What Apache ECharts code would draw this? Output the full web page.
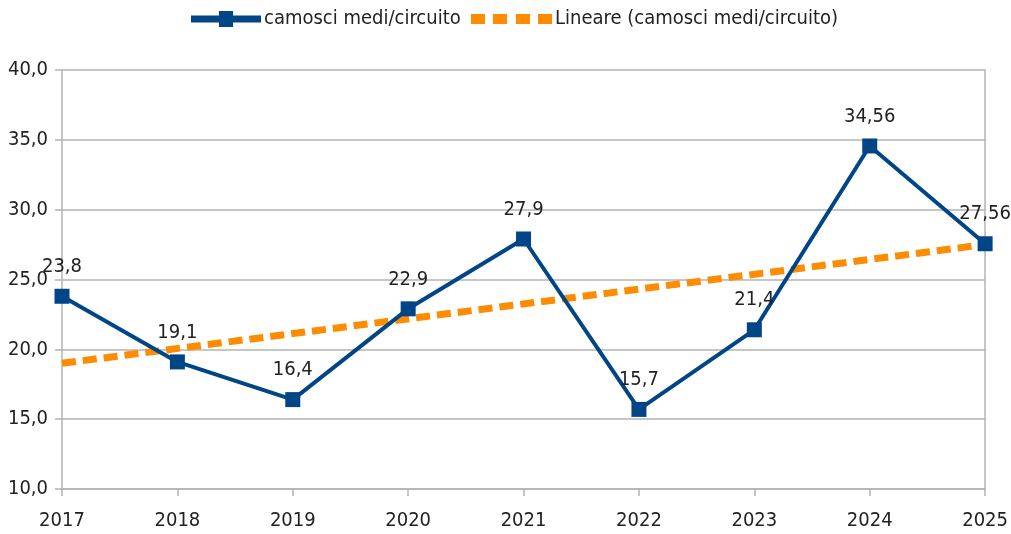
<!DOCTYPE html>
<html><head><meta charset="utf-8">
<script src="https://cdn.jsdelivr.net/npm/echarts@6/dist/echarts.min.js"></script>
<style>html,body{margin:0;padding:0;background:#fff}#c{width:1011px;height:534px}</style>
</head><body><div id="c"></div>
<script>
const years = ['2017','2018','2019','2020','2021','2022','2023','2024','2025'];
const camosci = [23.8, 19.1, 16.4, 22.9, 27.9, 15.7, 21.4, 34.56, 27.56];
const trend = [19.0, null, null, null, null, null, null, null, 27.5];
const seriesNames = ['camosci medi/circuito', 'Lineare (camosci medi/circuito)'];
const FONT = '"DejaVu Sans Condensed", "Liberation Sans Narrow", sans-serif';
const chart = echarts.init(document.getElementById('c'));
const fmt = v => String(v).replace('.', ',');
const legendText = {fontFamily: FONT, fontSize: 20, color: '#222', padding: [0,0,0,-2]};
chart.setOption({
  animation: false,
  grid: {left: 62, right: 25, top: 70, bottom: 45, containLabel: false},
  legend: [{
    top: 4, left: 186, itemWidth: 70, itemHeight: 16, textStyle: legendText,
    data: [
      {name: seriesNames[0], icon: 'path://M0,4.5 L28,4.5 L28,0 L42,0 L42,4.5 L70,4.5 L70,11.5 L42,11.5 L42,16 L28,16 L28,11.5 L0,11.5 Z', itemStyle:{color:'#004586'}}
    ]
  }, {
    top: 4, left: 466, itemWidth: 81, itemHeight: 16, textStyle: legendText,
    data: [
      {name: seriesNames[1], icon: 'path://M0,3 L14,3 L14,13 L0,13 Z M22,3 L36,3 L36,13 L22,13 Z M45,3 L59,3 L59,13 L45,13 Z M67,3 L81,3 L81,13 L67,13 Z', itemStyle:{color:'#ff8c00'}}
    ]
  }],
  xAxis: {
    type: 'category', data: years, boundaryGap: false,
    axisLine: {lineStyle: {color: '#b3b3b3', width: 1.5}},
    axisTick: {show: true, length: 7, inside: false, lineStyle: {color: '#b3b3b3', width: 1.5}},
    axisLabel: {fontFamily: FONT, fontSize: 20, color: '#222', margin: 22},
    splitLine: {show: false}
  },
  yAxis: [{
    type: 'value', min: 10, max: 40, interval: 5,
    axisLine: {show: true, lineStyle: {color: '#b3b3b3', width: 1.5}},
    axisTick: {show: true, length: 7, lineStyle: {color: '#b3b3b3', width: 1.5}},
    axisLabel: {fontFamily: FONT, fontSize: 20, color: '#222', margin: 14, formatter: v => v.toFixed(1).replace('.', ',')},
    splitLine: {lineStyle: {color: '#b3b3b3', width: 1.5}}
  }, {
    type: 'value', min: 10, max: 40, interval: 5, position: 'right',
    axisLine: {show: true, lineStyle: {color: '#b3b3b3', width: 1.5}},
    axisTick: {show: false}, axisLabel: {show: false}, splitLine: {show: false}
  }],
  series: [
    {
      name: seriesNames[1], type: 'line', data: trend, connectNulls: true, z: 2,
      symbol: 'none', lineStyle: {color: '#ff8c00', width: 7, type: [14, 7]},
      itemStyle: {color: '#ff8c00'}
    },
    {
      name: seriesNames[0], type: 'line', data: camosci, z: 3,
      symbol: 'rect', symbolSize: 15,
      lineStyle: {color: '#004586', width: 4},
      itemStyle: {color: '#004586'},
      label: {show: true, position: 'top', distance: 12, fontFamily: FONT, fontSize: 20, color: '#222',
        formatter: p => fmt(p.value)}
    }
  ]
});
</script></body></html>
